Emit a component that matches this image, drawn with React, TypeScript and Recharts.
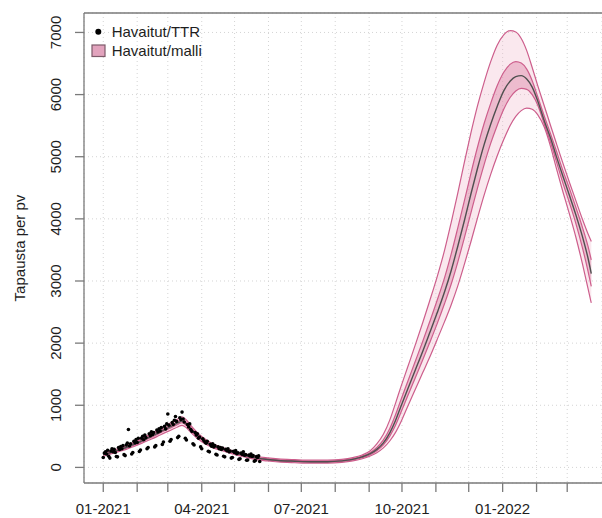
import React from "react";
import {
  ComposedChart,
  Area,
  Line,
  Scatter,
  XAxis,
  YAxis,
  CartesianGrid,
  ReferenceLine,
  Legend,
  Label,
} from "recharts";

// Day index counted from 1 Jan 2021
const modelDays = [
  0, 7, 14, 21, 28, 35, 42, 49, 56, 63,
  68, 72, 76, 80, 85, 90, 95, 100, 108, 116,
  124, 132, 140, 150, 160, 175, 190, 205, 218, 228,
  236, 244, 250, 256, 262, 267, 272, 278, 285, 292,
  298, 305, 312, 318, 324, 330, 336, 342, 348, 354,
  360, 366, 372, 377, 382, 387, 392, 397, 403, 409,
  414, 420, 426, 432, 438, 443, 446,
];

const modelMedian = [
  205, 240, 280, 320, 370, 425, 485, 545, 610, 670,
  715, 745, 700, 620, 530, 455, 395, 350, 300, 255,
  215, 180, 150, 128, 112, 100, 92, 92, 105, 130,
  165, 220, 290, 395, 560, 750, 980, 1250, 1560, 1870,
  2150, 2480, 2830, 3170, 3560, 3970, 4400, 4810, 5190, 5520,
  5810, 6060, 6220, 6290, 6305, 6250, 6120, 5900, 5580, 5290,
  5010, 4690, 4380, 4060, 3710, 3370, 3120,
];

const outerLow = [
  180, 215, 255, 291, 337, 387, 441, 496, 555, 610,
  651, 678, 637, 564, 482, 414, 359, 318, 273, 230,
  190, 155, 125, 103, 87, 75, 67, 67, 80, 104,
  136, 184, 236, 314, 429, 559, 731, 974, 1249, 1526,
  1760, 2052, 2350, 2619, 2922, 3268, 3632, 4013, 4378, 4712,
  5012, 5276, 5506, 5648, 5742, 5781, 5763, 5678, 5477, 5150,
  4820, 4440, 4080, 3700, 3270, 2880, 2646,
];

const outerHigh = [
  230, 265, 305, 349, 403, 463, 529, 594, 665, 730,
  779, 812, 763, 676, 578, 496, 431, 382, 327, 280,
  240, 205, 175, 153, 137, 125, 117, 117, 130, 158,
  196, 268, 378, 533, 769, 1027, 1295, 1603, 1963, 2331,
  2662, 3058, 3500, 3944, 4415, 4910, 5382, 5817, 6193, 6526,
  6795, 6962, 7028, 7006, 6902, 6707, 6436, 6149, 5821, 5490,
  5220, 4900, 4590, 4290, 3990, 3760, 3637,
];

const innerLow = [
  195, 230, 270, 309, 357, 410, 468, 526, 589, 647,
  690, 719, 675, 598, 511, 439, 381, 338, 289, 245,
  205, 170, 140, 118, 102, 90, 82, 82, 95, 119,
  152, 205, 268, 362, 508, 675, 883, 1142, 1434, 1731,
  1993, 2306, 2641, 2951, 3305, 3695, 4097, 4495, 4869, 5210,
  5503, 5764, 5957, 6058, 6099, 6085, 5998, 5832, 5526, 5220,
  4930, 4580, 4260, 3920, 3530, 3160, 2913,
];

const innerHigh = [
  215, 250, 290, 331, 383, 440, 502, 564, 631, 693,
  740, 771, 725, 642, 549, 471, 409, 362, 311, 265,
  225, 190, 160, 138, 122, 110, 102, 102, 115, 141,
  178, 239, 320, 444, 632, 844, 1086, 1370, 1700, 2031,
  2327, 2681, 3058, 3436, 3855, 4288, 4733, 5152, 5530, 5855,
  6142, 6359, 6490, 6531, 6507, 6409, 6223, 5969, 5656, 5360,
  5100, 4780, 4490, 4180, 3860, 3560, 3340,
];

// Daily observed cases, one value per day from 1 Jan 2021
const observedCases = [
  160, 230, 250, 215, 275, 180, 150,
  265, 300, 250, 290, 240, 175, 170,
  320, 290, 335, 300, 350, 205, 190,
  360, 390, 610, 345, 380, 215, 240,
  420, 395, 450, 400, 470, 255, 280,
  470, 500, 445, 520, 480, 300, 320,
  540, 510, 575, 530, 560, 330, 350,
  600, 570, 620, 585, 640, 370, 410,
  660, 620, 700, 860, 680, 420, 450,
  720, 690, 760, 820, 740, 480, 500,
  800, 770, 890, 780, 730, 470, 440,
  690, 650, 700, 610, 580, 380, 360,
  560, 520, 540, 470, 490, 330, 300,
  460, 430, 410, 390, 420, 260, 250,
  370, 340, 380, 330, 350, 210, 200,
  330, 300, 320, 290, 310, 180, 170,
  290, 270, 300, 250, 265, 150, 160,
  260, 240, 270, 220, 235, 130, 140,
  230, 210, 250, 195, 205, 115, 120,
  200, 185, 215, 175, 190, 100, 110,
  175, 160, 185, 95,
];

// Month starts (days since 1 Jan 2021) and the quarterly labels
const monthTicks = [0, 31, 59, 90, 120, 151, 181, 212, 243, 273, 304, 334, 365, 396, 424];
const monthLabels: Record<number, string> = {
  0: "01-2021",
  90: "04-2021",
  181: "07-2021",
  273: "10-2021",
  365: "01-2022",
};
const yTicks = [0, 1000, 2000, 3000, 4000, 5000, 6000, 7000];

const X_DOMAIN: [number, number] = [-17.6, 455.8];
const Y_DOMAIN: [number, number] = [-251, 7313];

const FONT = "'Liberation Sans', Arial, Helvetica, sans-serif";
const TEXT_COLOR = "#1e1e1e";
const AXIS_COLOR = "#7a7a7a";
const BAND_STROKE = "#CD5E8C";

const modelRows = modelDays.map((day, i) => ({
  day,
  median: modelMedian[i],
  outer: [outerLow[i], outerHigh[i]],
  inner: [innerLow[i], innerHigh[i]],
}));

const observedRows = observedCases.map((cases, i) => ({ day: i, cases }));

const XTick = (props: any) => {
  const { x, payload } = props;
  const label = monthLabels[payload.value];
  if (!label) return <g />;
  return (
    <text x={x} y={514} textAnchor="middle" fontFamily={FONT} fontSize={15} fill={TEXT_COLOR}>
      {label}
    </text>
  );
};

const YTick = (props: any) => {
  const { y, payload } = props;
  const tx = 61;
  return (
    <text
      x={tx}
      y={y}
      transform={`rotate(-90 ${tx} ${y})`}
      textAnchor="middle"
      fontFamily={FONT}
      fontSize={15}
      fill={TEXT_COLOR}
    >
      {payload.value}
    </text>
  );
};

const YTitle = () => (
  <text
    x={25}
    y={248}
    transform="rotate(-90 25 248)"
    textAnchor="middle"
    fontFamily={FONT}
    fontSize={15}
    fill={TEXT_COLOR}
  >
    Tapausta per pv
  </text>
);

const LegendBox = () => (
  <svg width={150} height={50} style={{ display: "block" }}>
    <circle cx={14.3} cy={18.7} r={3} fill="#000" />
    <text x={27.7} y={24.3} fontFamily={FONT} fontSize={15} fill={TEXT_COLOR}>
      Havaitut/TTR
    </text>
    <rect x={8} y={32} width={13} height={11.5} fill="#E2A3BD" stroke="#7d5a69" strokeWidth={1.2} />
    <text x={27.7} y={43} fontFamily={FONT} fontSize={15} fill={TEXT_COLOR}>
      Havaitut/malli
    </text>
  </svg>
);

const Dot = (props: any) => <circle cx={props.cx} cy={props.cy} r={1.8} fill="#000" />;

export default function App() {
  return (
    <div style={{ position: "absolute", left: 0, top: 0, width: 602, height: 518, background: "#fff" }}>
      <ComposedChart
        width={602}
        height={518}
        data={modelRows}
        margin={{ top: 13, right: 0, bottom: 0, left: 0 }}
      >
        <CartesianGrid stroke="#d4d4d4" strokeDasharray="1 3" strokeWidth={1} />
        <XAxis
          type="number"
          dataKey="day"
          domain={X_DOMAIN}
          allowDataOverflow
          ticks={monthTicks}
          interval={0}
          tickSize={9}
          height={35}
          tick={<XTick />}
          axisLine={{ stroke: AXIS_COLOR, strokeWidth: 1.3 }}
          tickLine={{ stroke: AXIS_COLOR, strokeWidth: 1.3 }}
        />
        <YAxis
          type="number"
          domain={Y_DOMAIN}
          allowDataOverflow
          ticks={yTicks}
          interval={0}
          tickSize={9}
          width={84}
          tick={<YTick />}
          axisLine={{ stroke: AXIS_COLOR, strokeWidth: 1.3 }}
          tickLine={{ stroke: AXIS_COLOR, strokeWidth: 1.3 }}
        >
          <Label content={<YTitle />} />
        </YAxis>
        <ReferenceLine y={Y_DOMAIN[1]} stroke={AXIS_COLOR} strokeWidth={1.3} ifOverflow="visible" />
        <Area
          type="monotone"
          dataKey="outer"
          stroke={BAND_STROKE}
          strokeWidth={1.2}
          fill="#EDB3C8"
          fillOpacity={0.3}
          isAnimationActive={false}
          dot={false}
          activeDot={false}
        />
        <Area
          type="monotone"
          dataKey="inner"
          stroke={BAND_STROKE}
          strokeWidth={1.2}
          fill="#D9789E"
          fillOpacity={0.4}
          isAnimationActive={false}
          dot={false}
          activeDot={false}
        />
        <Line
          type="monotone"
          dataKey="median"
          stroke="#4f4f4f"
          strokeWidth={1.4}
          dot={false}
          activeDot={false}
          isAnimationActive={false}
        />
        <Scatter
          data={observedRows}
          dataKey="cases"
          shape={<Dot />}
          isAnimationActive={false}
        />
        <Legend
          layout="vertical"
          align="center"
          verticalAlign="middle"
          content={<LegendBox />}
          wrapperStyle={{ position: "absolute", left: 84, top: 13, width: 150, height: 50 }}
        />
      </ComposedChart>
    </div>
  );
}
